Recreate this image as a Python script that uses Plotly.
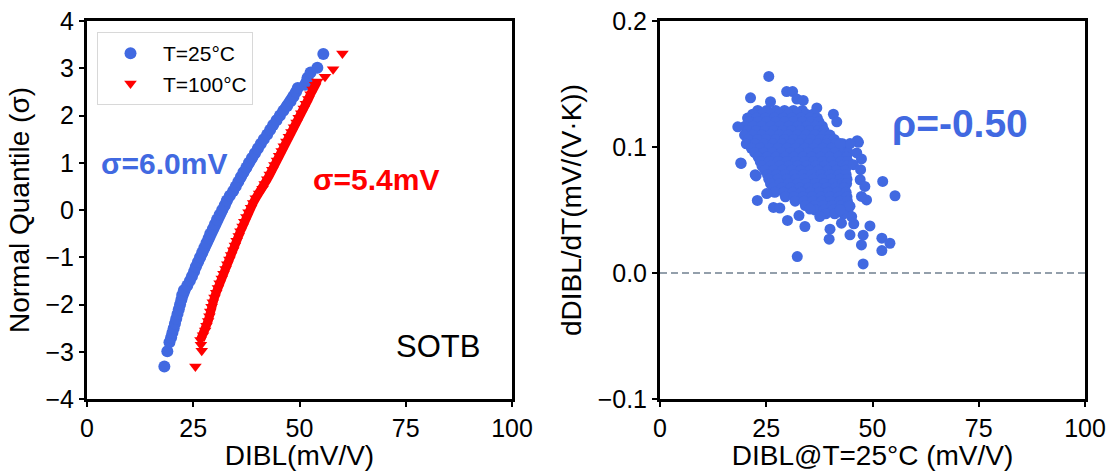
import plotly.graph_objects as go

# ---------------- Left panel: normal quantile plot ----------------
q_25 = [-3.31, -2.99, -2.8, -2.7, -2.6, -2.5, -2.4, -2.3, -2.2, -2.1, -2.0, -1.9, -1.8, -1.7,
        -1.6, -1.5, -1.4, -1.3, -1.2, -1.1, -1.0, -0.9, -0.8, -0.7, -0.6, -0.5, -0.4, -0.3,
        -0.2, -0.1, 0.0, 0.1, 0.2, 0.3, 0.4, 0.5, 0.6, 0.7, 0.8, 0.9, 1.0, 1.1, 1.2, 1.3,
        1.4, 1.5, 1.6, 1.7, 1.8, 1.9, 2.0, 2.1, 2.2, 2.3, 2.4, 2.5, 2.58, 2.65, 2.72, 2.8,
        2.91, 3.01, 3.30]
dibl_25 = [18.2, 18.9, 19.4, 19.8, 20.1, 20.4, 20.7, 21.0, 21.3, 21.6, 21.9, 22.2, 22.4, 22.8,
           23.6, 24.2, 24.7, 25.2, 25.6, 26.1, 26.6, 27.1, 27.6, 28.1, 28.6, 29.0, 29.6, 30.1,
           30.6, 31.2, 31.8, 32.4, 32.9, 33.6, 34.4, 35.0, 35.6, 36.2, 36.8, 37.5, 38.1, 38.8,
           39.5, 40.2, 40.9, 41.6, 42.4, 43.1, 43.8, 44.6, 45.4, 46.2, 47.1, 47.9, 48.6, 49.2,
           49.6, 51.3, 51.7, 51.9, 52.6, 54.2, 55.6]

q_100 = [-3.31, -2.98, -2.85, -2.75, -2.65, -2.55, -2.45, -2.35, -2.25, -2.15, -2.05, -1.95,
         -1.85, -1.75, -1.65, -1.55, -1.45, -1.35, -1.25, -1.15, -1.05, -0.95, -0.85, -0.75,
         -0.65, -0.55, -0.45, -0.35, -0.25, -0.15, -0.05, 0.05, 0.15, 0.25, 0.35, 0.45, 0.55,
         0.65, 0.75, 0.85, 0.95, 1.05, 1.15, 1.25, 1.35, 1.45, 1.55, 1.65, 1.75, 1.85, 1.95,
         2.05, 2.15, 2.25, 2.35, 2.45, 2.55, 2.65, 2.72, 2.82, 2.98, 3.31]
dibl_100 = [25.5, 27.0, 26.8, 26.7, 27.3, 27.8, 28.1, 28.5, 28.8, 29.0, 29.3, 29.6,
            30.0, 30.4, 30.8, 31.2, 31.7, 32.1, 32.6, 33.0, 33.5, 33.9, 34.4, 34.8,
            35.2, 35.7, 36.1, 36.6, 37.0, 37.5, 38.0, 38.6, 39.1, 39.7, 40.5, 41.3, 41.8,
            42.4, 43.0, 43.6, 44.1, 44.7, 45.2, 45.8, 46.3, 46.9, 47.5, 48.1, 48.7, 49.3, 49.8,
            50.4, 51.0, 51.5, 52.1, 52.6, 53.1, 53.7, 54.2, 56.0, 57.9, 60.1]

# ---------------- Right panel: dDIBL/dT vs DIBL@25C ----------------
# dense core of the cloud, one row per dDIBL/dT level: (dDIBL/dT, [DIBL values])
core_rows = [
    (0.129, [23.0, 25.1, 27.2, 29.3, 31.4, 33.5]),
    (0.126, [21.8, 23.9, 26.0, 28.1, 30.2, 32.3, 34.4, 36.0]),
    (0.123, [20.6, 22.7, 24.8, 26.9, 29.0, 31.1, 33.2, 35.3, 37.0]),
    (0.120, [21.0, 23.0, 25.1, 27.2, 29.3, 31.4, 33.5, 35.6, 37.4]),
    (0.1165, [20.0, 21.9, 24.0, 26.1, 28.2, 30.3, 32.4, 34.5, 36.6, 38.2]),
    (0.113, [20.5, 22.6, 24.7, 26.8, 28.9, 31.0, 33.1, 35.2, 37.3, 38.6]),
    (0.1095, [19.9, 21.8, 23.9, 26.0, 28.1, 30.2, 32.3, 34.4, 36.5, 38.6, 40.0]),
    (0.106, [20.9, 23.0, 25.1, 27.2, 29.3, 31.4, 33.5, 35.6, 37.7, 39.6, 41.0]),
    (0.1025, [20.3, 22.4, 24.5, 26.6, 28.7, 30.8, 32.9, 35.0, 37.1, 39.2, 41.3, 43.0]),
    (0.099, [21.5, 23.6, 25.7, 27.8, 29.9, 32.0, 34.1, 36.2, 38.3, 40.4, 42.4, 43.9]),
    (0.0955, [22.3, 24.4, 26.5, 28.6, 30.7, 32.8, 34.9, 37.0, 39.1, 41.2, 43.3, 44.3]),
    (0.092, [23.1, 25.2, 27.3, 29.4, 31.5, 33.6, 35.7, 37.8, 39.9, 42.0, 43.9]),
    (0.0885, [23.6, 25.7, 27.8, 29.9, 32.0, 34.1, 36.2, 38.3, 40.4, 42.5, 44.2]),
    (0.085, [24.0, 26.1, 28.2, 30.3, 32.4, 34.5, 36.6, 38.7, 40.8, 42.9, 44.0]),
    (0.0815, [24.7, 26.8, 28.9, 31.0, 33.1, 35.2, 37.3, 39.4, 41.5, 43.6]),
    (0.078, [25.3, 27.4, 29.5, 31.6, 33.7, 35.8, 37.9, 40.0, 42.1, 43.8]),
    (0.0745, [25.6, 27.7, 29.8, 31.9, 34.0, 36.1, 38.2, 40.3, 42.4, 44.0]),
    (0.071, [26.0, 28.1, 30.2, 32.3, 34.4, 36.5, 38.6, 40.7, 42.8, 43.9]),
    (0.0675, [26.6, 28.7, 30.8, 32.9, 35.0, 37.1, 39.2, 41.3, 43.4]),
    (0.064, [27.0, 29.1, 31.2, 33.3, 35.4, 37.5, 39.6, 41.7, 43.8]),
    (0.0605, [29.5, 31.6, 33.7, 35.8, 37.9, 40.0, 42.1, 44.0]),
    (0.057, [31.8, 33.9, 36.0, 38.1, 40.2, 42.3, 44.1]),
    (0.0535, [34.2, 36.3, 38.4, 40.5, 42.6, 44.3]),
    (0.050, [36.5, 38.6, 40.7, 42.8, 44.2]),
    (0.047, [39.0, 41.1, 43.2]),
]
# isolated points around the cloud: (DIBL, dDIBL/dT)
outlier_points = [
    (25.6, 0.156), (21.3, 0.139), (29.8, 0.144), (31.2, 0.144), (26.0, 0.136), (32.2, 0.138),
    (33.7, 0.137), (36.9, 0.131), (40.8, 0.126), (41.6, 0.120), (18.3, 0.116), (19.1, 0.087),
    (19.0, 0.0873), (22.4, 0.078), (46.4, 0.105), (46.7, 0.1037), (44.7, 0.1027), (42.4, 0.1027),
    (46.3, 0.0953), (47.4, 0.0905), (45.5, 0.086), (47.2, 0.082), (47.1, 0.074), (48.2, 0.0687),
    (48.6, 0.058), (47.4, 0.0608), (52.4, 0.0727), (55.3, 0.0613), (22.6, 0.077), (22.9, 0.0576),
    (26.7, 0.052), (28.2, 0.0515), (25.1, 0.063), (30.0, 0.0417), (32.7, 0.0456), (34.1, 0.0369),
    (35.3, 0.0507), (37.6, 0.0448), (32.3, 0.013), (40.0, 0.0348), (39.8, 0.0268), (42.7, 0.0395),
    (44.7, 0.0303), (45.6, 0.039), (47.4, 0.0223), (47.8, 0.0072), (47.8, 0.030), (49.4, 0.0374),
    (52.2, 0.0276), (54.1, 0.0236), (52.2, 0.0178), (44.7, 0.053), (45.1, 0.0448), (42.4, 0.050),
]
scatter_x = [x for y, xs in core_rows for x in xs] + [p[0] for p in outlier_points]
scatter_y = [y for y, xs in core_rows for x in xs] + [p[1] for p in outlier_points]

BLUE = "#4169E1"
RED = "#FF0000"
FONT = "Liberation Sans, Arial, sans-serif"

fig = go.Figure()
# continuous band where the markers overlap densely (same data, drawn as thick line underneath)
fig.add_trace(go.Scatter(x=dibl_25[2:57], y=q_25[2:57], mode="lines", showlegend=False,
                         line=dict(color=BLUE, width=10), hoverinfo="skip", xaxis="x", yaxis="y"))
fig.add_trace(go.Scatter(x=dibl_25, y=q_25, mode="markers", name="T=25°C",
                         marker=dict(symbol="circle", size=12, color=BLUE, line=dict(width=0)),
                         xaxis="x", yaxis="y"))
fig.add_trace(go.Scatter(x=dibl_100[3:59], y=q_100[3:59], mode="lines", showlegend=False,
                         line=dict(color=RED, width=9), hoverinfo="skip", xaxis="x", yaxis="y"))
fig.add_trace(go.Scatter(x=dibl_100, y=q_100, mode="markers", name="T=100°C",
                         marker=dict(symbol="triangle-down", size=11, color=RED, line=dict(width=0)),
                         xaxis="x", yaxis="y"))
fig.add_trace(go.Scatter(x=scatter_x, y=scatter_y, mode="markers", showlegend=False,
                         marker=dict(symbol="circle", size=11, color=BLUE, line=dict(width=0)),
                         xaxis="x2", yaxis="y2"))

axis_common = dict(showgrid=False, zeroline=False, showline=True, linewidth=3, linecolor="black",
                   mirror=True, ticks="outside", ticklen=5, tickwidth=1.5, tickcolor="black",
                   automargin=False,
                   tickfont=dict(size=25, color="black", family=FONT),
                   title_font=dict(size=28, color="black", family=FONT))

fig.update_layout(
    width=1118, height=471,
    margin=dict(l=0, r=0, t=0, b=0, autoexpand=False),
    paper_bgcolor="white", plot_bgcolor="white",
    font=dict(family=FONT, color="black"),
    xaxis=dict(domain=[87/1118, 512/1118], range=[0, 100], dtick=25, anchor="y",
               title=dict(text="DIBL(mV/V)", standoff=2), **axis_common),
    yaxis=dict(domain=[1-399/471, 1-21/471], range=[-4, 4], dtick=1, anchor="x",
               title=dict(text="Normal Quantile (σ)", standoff=8), **axis_common),
    xaxis2=dict(domain=[660/1118, 1085/1118], range=[0, 100], dtick=25, anchor="y2",
                title=dict(text="DIBL@T=25°C (mV/V)", standoff=2), **axis_common),
    yaxis2=dict(domain=[1-399/471, 1-21/471], range=[-0.1, 0.2], dtick=0.1, tickformat=".1f",
                anchor="x2", title=dict(text="dDIBL/dT(mV/(V·K))", standoff=8), **axis_common),
    legend=dict(x=97/1118, y=1-32/471, xanchor="left", yanchor="top",
                bgcolor="white", bordercolor="#d8d8d8", borderwidth=1,
                font=dict(size=21, family=FONT, color="black"), itemwidth=55),
    showlegend=True,
)

fig.add_shape(type="line", xref="x2 domain", yref="y2", x0=0, x1=1, y0=0, y1=0,
              line=dict(color="#708090", width=1.5, dash="7px,4px"), layer="below")

fig.add_annotation(x=18.0, y=0.98, xref="x", yref="y", text="<b>σ=6.0mV</b>", showarrow=False,
                   font=dict(size=30, color=BLUE, family=FONT))
fig.add_annotation(x=68.0, y=0.64, xref="x", yref="y", text="<b>σ=5.4mV</b>", showarrow=False,
                   font=dict(size=30, color=RED, family=FONT))
fig.add_annotation(x=82.5, y=-2.89, xref="x", yref="y", text="SOTB", showarrow=False,
                   font=dict(size=31, color="black", family=FONT))
fig.add_annotation(x=70.5, y=0.119, xref="x2", yref="y2", text="<b>ρ=-0.50</b>", showarrow=False,
                   font=dict(size=39, color=BLUE, family=FONT))

fig.write_html("out.html")
